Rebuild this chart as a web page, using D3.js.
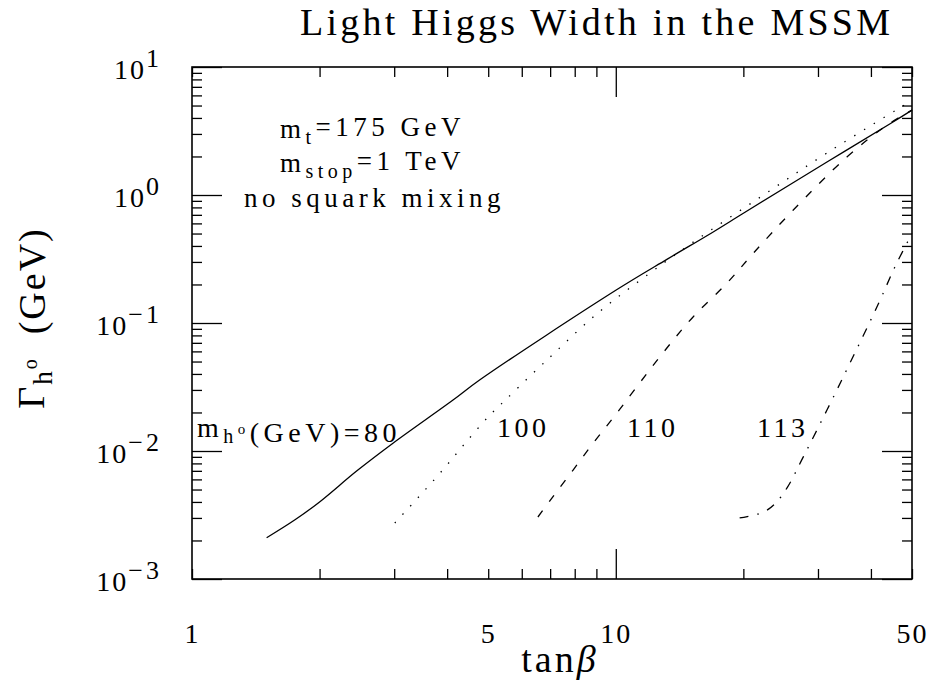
<!DOCTYPE html>
<html><head><meta charset="utf-8">
<script src="https://cdn.jsdelivr.net/npm/d3@7"></script>
<style>
html,body{margin:0;padding:0;background:#fff;}
text{font-family:"Liberation Serif","DejaVu Serif",serif;fill:#000;}
</style></head>
<body><svg id="c" width="933" height="692"></svg>
<script>
// ---- data ----
const tanb80 = [1.5, 1.75, 2.0, 2.45, 2.98, 4.13, 4.78, 10, 13.2, 16.9, 20, 31.5, 45, 50];
const gam80  = [0.0021, 0.0029, 0.0040, 0.0070, 0.0115, 0.025, 0.036, 0.18, 0.314, 0.51, 0.72, 1.81, 3.7, 4.6];
const tanb100 = [3.01, 3.41, 3.89, 4.41, 5.0, 5.22, 6.88, 9.08, 11.7, 15.1, 21.9, 31.5, 48.7];
const gam100  = [0.00274, 0.0043, 0.0070, 0.0115, 0.0185, 0.0213, 0.0514, 0.120, 0.229, 0.42, 0.96, 2.13, 5.2];
const tanb110 = [6.55, 7.11, 7.93, 8.84, 9.85, 12.9, 15.2, 18.3, 21.1, 26.2, 35.1, 43.6, 50];
const gam110  = [0.00305, 0.0044, 0.0071, 0.0115, 0.0181, 0.058, 0.111, 0.205, 0.35, 0.76, 1.98, 3.5, 4.6];
const tanb113 = [19.6, 22.3, 23.8, 25.4, 27.7, 31.5, 35.7, 41.6, 45.8, 50];
const gam113  = [0.0030, 0.00333, 0.0039, 0.0052, 0.0090, 0.0209, 0.0487, 0.14, 0.284, 0.5];
const curveNames = ["80", "100", "110", "113"];
const xLabelTicks = [1, 5, 10, 50];
const xMajorTicks = [10];
const yMajorTicks = [1e-3, 1e-2, 1e-1, 1e0, 1e1];

const svg = d3.select("#c");
const L = 192, R = 912, T = 67, B = 579;
const x = d3.scaleLog().domain([1, 50]).range([L, R]);
const y = d3.scaleLog().domain([1e-3, 1e1]).range([B, T]);

const minorX = x.ticks().filter(v => !xMajorTicks.includes(v));
const allY = y.ticks();
const minorY = allY.filter(v => !yMajorTicks.some(m => Math.abs(m - v) / m < 1e-9));

function clean(g){ g.select(".domain").remove(); g.selectAll("line").attr("stroke","#000").attr("stroke-width",1.3); }

// ticks (pointing inward) on all four sides
svg.append("g").attr("transform",`translate(0,${B})`).call(d3.axisBottom(x).tickValues(minorX).tickSize(-10).tickFormat("")).call(clean);
svg.append("g").attr("transform",`translate(0,${B})`).call(d3.axisBottom(x).tickValues(xMajorTicks).tickSize(-30).tickFormat("")).call(clean);
svg.append("g").attr("transform",`translate(0,${T})`).call(d3.axisTop(x).tickValues(minorX).tickSize(-10).tickFormat("")).call(clean);
svg.append("g").attr("transform",`translate(0,${T})`).call(d3.axisTop(x).tickValues(xMajorTicks).tickSize(-30).tickFormat("")).call(clean);
svg.append("g").attr("transform",`translate(${L},0)`).call(d3.axisLeft(y).tickValues(minorY).tickSize(-10).tickFormat("")).call(clean);
svg.append("g").attr("transform",`translate(${L},0)`).call(d3.axisLeft(y).tickValues(yMajorTicks).tickSize(-30).tickFormat("")).call(clean);
svg.append("g").attr("transform",`translate(${R},0)`).call(d3.axisRight(y).tickValues(minorY).tickSize(-10).tickFormat("")).call(clean);
svg.append("g").attr("transform",`translate(${R},0)`).call(d3.axisRight(y).tickValues(yMajorTicks).tickSize(-30).tickFormat("")).call(clean);

// frame
svg.append("rect").attr("x",L).attr("y",T).attr("width",R-L).attr("height",B-T)
  .attr("fill","none").attr("stroke","#000").attr("stroke-width",1.6);

// x tick labels
const xl = svg.append("g").attr("transform",`translate(0,${B})`)
  .call(d3.axisBottom(x).tickValues(xLabelTicks).tickSize(0).tickPadding(44).tickFormat(d3.format("d")));
xl.select(".domain").remove();
xl.selectAll("text").attr("font-size",28).attr("font-family","Liberation Serif").attr("fill","#000").attr("letter-spacing",2);

// y tick labels with superscripts
const yl = svg.append("g").attr("transform",`translate(${L},0)`)
  .call(d3.axisLeft(y).tickValues(yMajorTicks).tickSize(0).tickPadding(30).tickFormat(""));
yl.select(".domain").remove();
yl.selectAll("text").attr("font-size",28).attr("font-family","Liberation Serif").attr("fill","#000")
  .attr("dy","0.4em")
  .each(function(d){
    const e = Math.round(Math.log10(d));
    const t = d3.select(this);
    t.append("tspan").attr("letter-spacing",2).text("10");
    t.append("tspan").attr("dy","-0.45em").attr("font-size",26).attr("letter-spacing",3).text(e < 0 ? "\u2212" + (-e) : String(e));
  });

// curves
const line = d3.line().x(d => x(d[0])).y(d => y(d[1])).curve(d3.curveCatmullRom.alpha(0.5));
const series = [
  {t: tanb80, g: gam80, dash: null},
  {t: tanb100, g: gam100, dash: "1.4,10"},
  {t: tanb110, g: gam110, dash: "8,11"},
  {t: tanb113, g: gam113, dash: "9,9,1.5,9"}
];
series.forEach(s => {
  svg.append("path").datum(d3.zip(s.t, s.g)).attr("d", line)
    .attr("fill","none").attr("stroke","#000").attr("stroke-width",1.3)
    .attr("stroke-dasharray", s.dash);
});

// title
svg.append("text").attr("x",300).attr("y",35)
  .attr("font-size",38).attr("textLength",590).attr("lengthAdjust","spacing")
  .text("Light Higgs Width in the MSSM");

// axis titles
const xt = svg.append("text").attr("x",560).attr("y",672).attr("text-anchor","middle").attr("font-size",38).attr("letter-spacing",3);
xt.append("tspan").text("tan");
xt.append("tspan").attr("font-style","italic").text("\u03B2");

const yt = svg.append("text").attr("transform","translate(44,318) rotate(-90)").attr("text-anchor","middle").attr("font-size",38).attr("letter-spacing",2);
yt.append("tspan").text("\u0393");
yt.append("tspan").attr("font-size",27).attr("dy","0.3em").text("h");
yt.append("tspan").attr("font-size",20).attr("dy","-0.75em").text("o");
yt.append("tspan").attr("dy","0.22em").text("\u00A0\u00A0(GeV)");

// annotations
const ann = {size: 27, sub: 20, ls: 4.5};
const a1 = svg.append("text").attr("x",280).attr("y",138).attr("font-size",ann.size).attr("letter-spacing",ann.ls);
a1.append("tspan").text("m");
a1.append("tspan").attr("font-size",ann.sub).attr("dy","0.3em").text("t");
a1.append("tspan").attr("dy","-0.3em").text("=175 GeV");

const a2 = svg.append("text").attr("x",280).attr("y",172).attr("font-size",ann.size).attr("letter-spacing",ann.ls);
a2.append("tspan").text("m");
a2.append("tspan").attr("font-size",ann.sub).attr("dy","0.3em").text("stop");
a2.append("tspan").attr("dy","-0.3em").text("=1 TeV");

svg.append("text").attr("x",244).attr("y",207).attr("font-size",ann.size).attr("letter-spacing",ann.ls).text("no squark mixing");

// curve labels
const c1 = svg.append("text").attr("x",197).attr("y",437).attr("font-size",28).attr("letter-spacing",4.5);
c1.append("tspan").text("m");
c1.append("tspan").attr("font-size",20).attr("dy","0.3em").text("h");
c1.append("tspan").attr("font-size",15).attr("dy","-0.6em").text("o");
c1.append("tspan").attr("dy","0.3em").text("(GeV)=" + curveNames[0]);
const lblX = [497, 627, 757];
curveNames.slice(1).forEach((n, i) => {
  svg.append("text").attr("x", lblX[i]).attr("y",437).attr("font-size",28).attr("letter-spacing",3.5).text(n);
});
</script></body></html>
